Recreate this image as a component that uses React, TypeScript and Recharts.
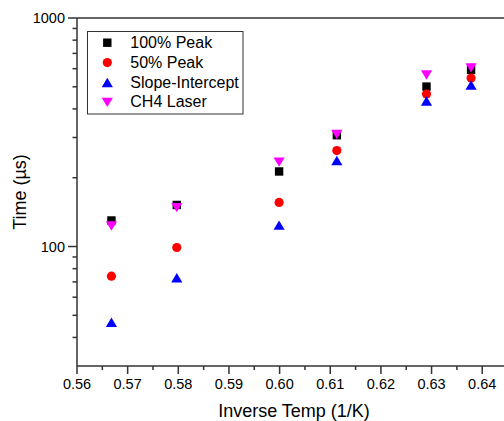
import React from 'react';
import { ScatterChart, Scatter, XAxis, YAxis, ReferenceLine, Legend } from 'recharts';

const inverseTemp = [0.5668, 0.5797, 0.5999, 0.6113, 0.629, 0.6378];
const peak100 = [130, 152, 213, 307, 501, 593];
const peak50 = [74.2, 99, 156, 263, 465, 546];
const slopeIntercept = [46.6, 73, 124, 238, 433, 509];
const ch4Laser = [123, 148, 234, 309, 563, 605];

const xTicks = [0.56, 0.565, 0.57, 0.575, 0.58, 0.585, 0.59, 0.595, 0.6, 0.605, 0.61, 0.615, 0.62, 0.625, 0.63, 0.635, 0.64];
const yTicks = [40, 50, 60, 70, 80, 90, 100, 200, 300, 400, 500, 600, 700, 800, 900, 1000];
const yMajor = [100, 1000];

const FONT = '"Liberation Sans", Arial, sans-serif';
const AXIS = '#333';

type Kind = 'square' | 'circle' | 'up' | 'down';

const series: { name: string; values: number[]; kind: Kind; color: string }[] = [
  { name: '100% Peak', values: peak100, kind: 'square', color: '#000000' },
  { name: '50% Peak', values: peak50, kind: 'circle', color: '#ff0000' },
  { name: 'Slope-Intercept', values: slopeIntercept, kind: 'up', color: '#0000ff' },
  { name: 'CH4 Laser', values: ch4Laser, kind: 'down', color: '#ff00ff' },
];

const toPoints = (values: number[]) => values.map((t, i) => ({ x: inverseTemp[i], y: t }));

const symbol = (kind: Kind, cx: number, cy: number, color: string) => {
  if (kind === 'square') return <rect x={cx - 4.2} y={cy - 4.2} width={8.4} height={8.4} fill={color} />;
  if (kind === 'circle') return <circle cx={cx} cy={cy} r={4.6} fill={color} />;
  if (kind === 'up')
    return <polygon points={`${cx - 5.6},${cy + 4.7} ${cx + 5.6},${cy + 4.7} ${cx},${cy - 4.7}`} fill={color} />;
  return <polygon points={`${cx - 5.6},${cy - 4.7} ${cx + 5.6},${cy - 4.7} ${cx},${cy + 4.7}`} fill={color} />;
};

const XTick = (props: any) => {
  const { x, y, payload } = props;
  const v = payload.value as number;
  const major = Math.round(v * 1000) % 10 === 0;
  return (
    <g>
      <line x1={x} y1={y} x2={x} y2={y + (major ? 8 : 4)} stroke={AXIS} strokeWidth={1.5} />
      {major && (
        <text x={x} y={y + 22.5} textAnchor="middle" fontSize={14.5} fontFamily={FONT} fill="#000">
          {v.toFixed(2)}
        </text>
      )}
    </g>
  );
};

const YTick = (props: any) => {
  const { x, y, payload } = props;
  const v = payload.value as number;
  const major = yMajor.includes(v);
  return (
    <g>
      <line x1={x - (major ? 9 : 4.5)} y1={y} x2={x} y2={y} stroke={AXIS} strokeWidth={1.5} />
      {major && (
        <text x={x - 12} y={y + 5.2} textAnchor="end" fontSize={14.5} fontFamily={FONT} fill="#000">
          {v}
        </text>
      )}
    </g>
  );
};

const LegendBox = () => (
  <svg width={157} height={84} style={{ display: 'block' }}>
    <rect x={0.5} y={0.5} width={155.5} height={82.5} fill="#fff" stroke={AXIS} strokeWidth={1} />
    {series.map((s, i) => {
      const cy = 11.7 + i * 19.9;
      return (
        <g key={s.name}>
          {symbol(s.kind, 20.3, cy, s.color)}
          <text x={43.3} y={cy + 5} fontSize={16} fontFamily={FONT} fill="#000">
            {s.name}
          </text>
        </g>
      );
    })}
  </svg>
);

export default function App() {
  return (
    <div
      style={{ position: 'fixed', left: 0, top: 0, width: 504, height: 421, overflow: 'hidden', background: '#fff' }}
    >
      <ScatterChart width={504} height={421} margin={{ top: 18, right: 0, bottom: 0, left: 0 }}>
        <XAxis
          type="number"
          dataKey="x"
          domain={[0.56, 0.6443]}
          allowDataOverflow
          ticks={xTicks}
          interval={0}
          tick={<XTick />}
          tickLine={false}
          tickSize={0}
          tickMargin={0}
          axisLine={{ stroke: AXIS, strokeWidth: 1.5 }}
          height={55}
        />
        <YAxis
          type="number"
          dataKey="y"
          scale="log"
          domain={[30, 1000]}
          allowDataOverflow
          ticks={yTicks}
          interval={0}
          tick={<YTick />}
          tickLine={false}
          tickSize={0}
          tickMargin={0}
          axisLine={{ stroke: AXIS, strokeWidth: 1.5 }}
          width={77}
        />
        <ReferenceLine y={1000} stroke={AXIS} strokeWidth={1.5} />
        {series.map((s) => (
          <Scatter
            key={s.name}
            name={s.name}
            data={toPoints(s.values)}
            fill={s.color}
            isAnimationActive={false}
            shape={(p: any) => symbol(s.kind, p.cx, p.cy, s.color)}
          />
        ))}
        <Legend
          layout="vertical"
          align="center"
          verticalAlign="middle"
          content={() => <LegendBox />}
          wrapperStyle={{ left: 86.5, top: 31, width: 157, height: 84 }}
        />
      </ScatterChart>
      <svg width={504} height={421} style={{ position: 'absolute', left: 0, top: 0, pointerEvents: 'none' }}>
        <text x={294} y={417} textAnchor="middle" fontSize={18} fontFamily={FONT} fill="#000">
          Inverse Temp (1/K)
        </text>
        <text
          x={26}
          y={192}
          transform="rotate(-90 26 192)"
          textAnchor="middle"
          fontSize={18}
          fontFamily={FONT}
          fill="#000"
        >
          Time (µs)
        </text>
      </svg>
    </div>
  );
}
